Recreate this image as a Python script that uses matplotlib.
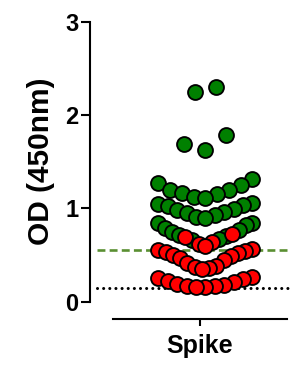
import numpy as np
import matplotlib
matplotlib.use("Agg")
import matplotlib.pyplot as plt

plt.rcParams['font.family'] = ['Liberation Sans', 'DejaVu Sans']
plt.rcParams['font.weight'] = 'bold'

# OD readings
green_od = [2.30, 2.25, 1.79, 1.69, 1.63,
            1.32, 1.27, 1.25, 1.20, 1.20, 1.16, 1.15, 1.12, 1.11,
            1.06, 1.05, 1.04, 1.03, 0.99, 0.98, 0.96, 0.95, 0.93, 0.91, 0.90,
            0.84, 0.84, 0.82, 0.79, 0.77, 0.75, 0.71, 0.70, 0.67, 0.66]
red_od = [0.73, 0.69, 0.64, 0.62, 0.60,
          0.565, 0.55, 0.54, 0.53, 0.52, 0.50, 0.49, 0.47, 0.45, 0.42,
          0.38, 0.37, 0.36, 0.35,
          0.26, 0.25, 0.24, 0.22, 0.21, 0.19, 0.18, 0.17, 0.165, 0.16, 0.16]
category = "Spike"
cutoff = 0.554      # green dashed line
background = 0.147  # black dotted line
yticks = [0, 1, 2, 3]

fig = plt.figure(figsize=(2.96, 3.65), dpi=100)
ax = fig.add_axes([90/296, (365-301.7)/365, 200/296, 280/365])
ax.set_xlim(-0.733, 0.6)
ax.set_ylim(0, 3)


def prism_scatter_x(values, ax, bin_h=0.255, origin=0.595, width=94,
                    max_step=21, shift=5.5):
    # Prism-like dot plot: values binned into rows of fixed height, each row
    # spread center-out (lowest value in the middle); sizes in pixels
    p0 = ax.transData.transform((0, 0))[0]
    px_x = ax.transData.transform((1, 0))[0] - p0
    vals = np.asarray(values)
    row_id = np.floor((vals - origin) / bin_h).astype(int)
    xs = np.zeros(len(vals))
    for rid in np.unique(row_id):
        r = np.where(row_id == rid)[0]
        r = r[np.argsort(vals[r], kind="stable")]
        n = len(r)
        step = min(max_step, width / (n - 1)) if n > 1 else 0
        if n % 2:
            slots = [0] + [s * k for k in range(1, n) for s in (-1, 1)]
        else:
            slots = [s * (k - 0.5) for k in range(1, n) for s in (-1, 1)]
        for idx, sl in zip(r, slots[:n]):
            xs[idx] = (sl * step + shift) / px_x
    return xs


all_od = green_od + red_od
is_green = np.array([True] * len(green_od) + [False] * len(red_od))
xs = prism_scatter_x(all_od, ax)
ys = np.array(all_od)

ax.axhline(cutoff, xmin=0.035, xmax=1.0, color="#5a8f32", lw=1.9,
           dashes=(3.0, 1.6), zorder=1)
ax.axhline(background, xmin=0.035, xmax=1.0, color="black", lw=2.2,
           dashes=(0.01, 2.0), dash_capstyle="round", zorder=1)

ax.scatter(xs[is_green], ys[is_green], s=115, c="#008000",
           edgecolors="black", linewidths=1.35, zorder=3, clip_on=False)
ax.scatter(xs[~is_green], ys[~is_green], s=115, c="#ff0000",
           edgecolors="black", linewidths=1.35, zorder=4, clip_on=False)

ax.set_yticks(yticks)
ax.set_yticklabels([str(v) for v in yticks])
ax.set_xticks([0])
ax.set_xticklabels([category])
ax.set_ylabel("OD (450nm)", fontsize=21.5, fontweight="bold", labelpad=7)

ax.spines["top"].set_visible(False)
ax.spines["right"].set_visible(False)
ax.spines["left"].set_linewidth(1.5)
ax.spines["bottom"].set_linewidth(1.5)
ax.spines["bottom"].set_position(("outward", 12.2))
ax.spines["bottom"].set_bounds(-0.58, 0.58)
ax.tick_params(axis="y", length=6.5, width=1.5, pad=2, labelsize=17)
ax.tick_params(axis="x", length=5, width=1.5, pad=6, labelsize=18)

fig.savefig("out.png", dpi=100)
